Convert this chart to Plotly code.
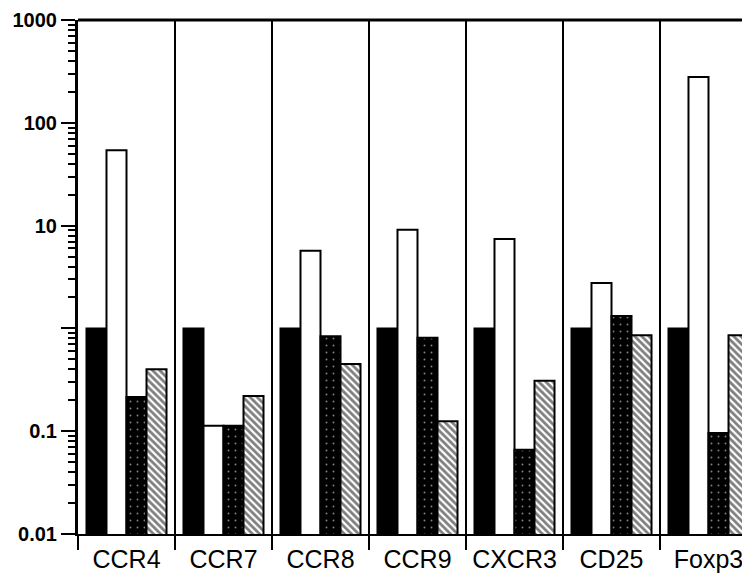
import plotly.graph_objects as go

categories = ["CCR4", "CCR7", "CCR8", "CCR9", "CXCR3", "CD25", "Foxp3"]
black_vals = [1.0, 1.0, 1.0, 1.0, 1.0, 1.0, 1.0]
white_vals = [54, 0.113, 5.7, 9.1, 7.4, 2.77, 279]
stipple_vals = [0.215, 0.113, 0.84, 0.81, 0.066, 1.32, 0.096]
hatch_vals = [0.40, 0.22, 0.45, 0.125, 0.31, 0.86, 0.86]

y_tickvals = [0.01, 0.1, 1, 10, 100, 1000]
y_ticktext = ["0.01", "0.1", "", "10", "100", "1000"]

x = list(range(len(categories)))
minor_y = [m * 10.0 ** e for e in range(-2, 3) for m in range(2, 10)]
boundaries = [i - 0.5 for i in range(len(categories) + 1)]

fig = go.Figure()
line = dict(color="black", width=2)
fig.add_bar(x=x, y=black_vals, marker=dict(color="black", line=line))
fig.add_bar(x=x, y=white_vals, marker=dict(color="white", line=line))
fig.add_bar(x=x, y=stipple_vals, marker=dict(
    color="black", line=line,
    pattern=dict(shape=".", bgcolor="black", fgcolor="white", size=7, solidity=0.06)))
fig.add_bar(x=x, y=hatch_vals, marker=dict(
    color="white", line=line,
    pattern=dict(shape="\\", bgcolor="white", fgcolor="black", size=5, solidity=0.55)))

for b in boundaries[1:-1]:
    fig.add_shape(type="line", xref="x", yref="paper", x0=b, x1=b, y0=0, y1=1,
                  line=dict(color="black", width=2))
fig.add_shape(type="line", xref="paper", yref="paper", x0=0, x1=1, y0=1, y1=1,
              line=dict(color="black", width=3))

# page body has an 8px margin, so the figure is sized to fill 742x572
fig.update_layout(
    width=742, height=572,
    margin=dict(l=70, r=0, t=12, b=46, autoexpand=False),
    paper_bgcolor="white", plot_bgcolor="white",
    barmode="group", bargap=0.175, bargroupgap=0,
    showlegend=False,
    font=dict(family="Liberation Sans", color="black"),
)
fig.update_xaxes(
    automargin=False,
    range=[-0.5, -0.5 + 672 / 97],
    tickvals=x, ticktext=categories,
    ticks="outside", ticklen=2, tickcolor="rgba(0,0,0,0)",
    tickfont=dict(size=25, family="Liberation Sans"),
    showline=True, linecolor="black", linewidth=2, showgrid=False, zeroline=False,
    minor=dict(tickvals=boundaries, ticks="outside", ticklen=14, tickwidth=2, tickcolor="black"),
)
fig.update_yaxes(
    automargin=False,
    type="log", range=[-2, 3],
    tickvals=y_tickvals, ticktext=y_ticktext,
    ticks="outside", ticklen=14, tickwidth=2, tickcolor="black",
    tickfont=dict(size=20, family="Liberation Sans", weight="bold"),
    showline=True, linecolor="black", linewidth=3, showgrid=False, zeroline=False,
    minor=dict(tickvals=minor_y, ticks="outside", ticklen=7, tickwidth=1.5, tickcolor="black"),
)

fig.write_html("out.html")
